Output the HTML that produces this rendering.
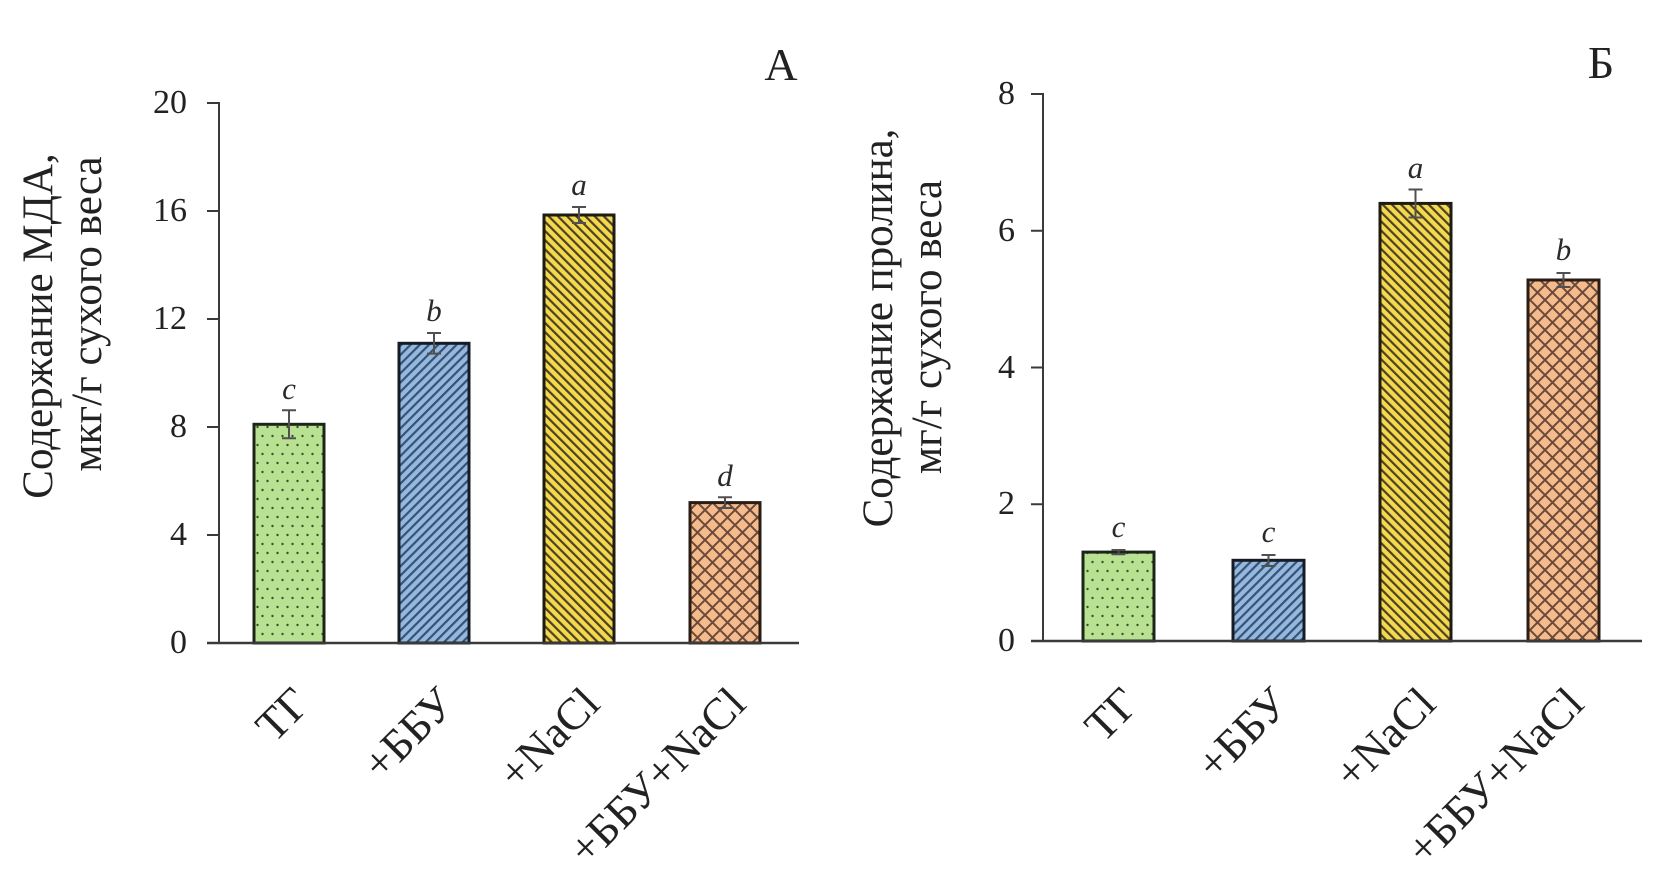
<!DOCTYPE html>
<html>
<head>
<meta charset="utf-8">
<style>
  html,body{margin:0;padding:0;background:#fff;}
  svg{display:block;}
  .t{font-family:"Liberation Serif","Noto Serif CJK SC",serif;fill:#222;}
  .it{font-family:"Liberation Serif","Noto Serif CJK SC",serif;font-style:italic;fill:#2a2a2a;}
</style>
</head>
<body>
<svg width="1678" height="882" viewBox="0 0 1678 882" xmlns="http://www.w3.org/2000/svg">
  <defs>
    <pattern id="dots" patternUnits="userSpaceOnUse" width="10" height="18">
      <rect width="10" height="18" fill="#b8e191"/>
      <circle cx="2.5" cy="4" r="1.2" fill="#3a5530"/>
      <circle cx="7.5" cy="13" r="1.2" fill="#3a5530"/>
    </pattern>
    <pattern id="blue" patternUnits="userSpaceOnUse" width="6.5" height="6.5" patternTransform="rotate(45)">
      <rect width="6.5" height="6.5" fill="#94b9e0"/>
      <rect width="2.2" height="6.5" fill="#3a5272"/>
    </pattern>
    <pattern id="yellow" patternUnits="userSpaceOnUse" width="6.5" height="6.5" patternTransform="rotate(-45)">
      <rect width="6.5" height="6.5" fill="#f4d84e"/>
      <rect width="2.2" height="6.5" fill="#4a4222"/>
    </pattern>
    <pattern id="cross" patternUnits="userSpaceOnUse" width="15" height="15">
      <rect width="15" height="15" fill="#f6bb8c"/>
      <path d="M0,0 L15,15 M15,0 L0,15" stroke="#6b4a3a" stroke-width="2"/>
    </pattern>
  </defs>

  <!-- ========== CHART A ========== -->
  <rect x="254" y="424.3" width="70" height="218.7" fill="url(#dots)" stroke="#1c2618" stroke-width="3"/>
  <rect x="399" y="343.3" width="70" height="299.7" fill="url(#blue)" stroke="#161c26" stroke-width="3"/>
  <rect x="544" y="215" width="70" height="428" fill="url(#yellow)" stroke="#1e1b10" stroke-width="3"/>
  <rect x="690" y="502.6" width="70" height="140.4" fill="url(#cross)" stroke="#2a1d16" stroke-width="3"/>

  <g stroke="#505050" stroke-width="2" fill="none">
    <path d="M289,410.3 V438.3 M282,410.3 H296 M282,438.3 H296"/>
    <path d="M434,333 V353.6 M427,333 H441 M427,353.6 H441"/>
    <path d="M579,207 V223 M572,207 H586 M572,223 H586"/>
    <path d="M725,497.2 V508 M718,497.2 H732 M718,508 H732"/>
  </g>

  <g stroke="#3a3a3a" stroke-width="2" fill="none">
    <path d="M219,102 V643"/>
    <path d="M207,103 H219 M207,211 H219 M207,319 H219 M207,427 H219 M207,535 H219"/>
  </g>
  <path d="M207,643 H799" stroke="#3a3a3a" stroke-width="2.5"/>

  <g class="t" font-size="34" text-anchor="end">
    <text x="187" y="113">20</text>
    <text x="187" y="221">16</text>
    <text x="187" y="329">12</text>
    <text x="187" y="437">8</text>
    <text x="187" y="545">4</text>
    <text x="187" y="653">0</text>
  </g>

  <g class="it" font-size="31" text-anchor="middle">
    <text x="289" y="399">c</text>
    <text x="434" y="321">b</text>
    <text x="579" y="195">a</text>
    <text x="725" y="486">d</text>
  </g>

  <text class="t" x="781" y="80" font-size="46" text-anchor="middle">А</text>

  <g class="t" font-size="43" text-anchor="middle">
    <text transform="translate(52,326) rotate(-90)">Содержание МДА,</text>
    <text transform="translate(101,314) rotate(-90)">мкг/г сухого веса</text>
  </g>

  <g class="t" font-size="45" text-anchor="end">
    <text transform="translate(312,706) rotate(-45)">ТГ</text>
    <text transform="translate(457,706) rotate(-45)">+ББУ</text>
    <text transform="translate(602,706) rotate(-45)">+NaCl</text>
    <text transform="translate(748,706) rotate(-45)">+ББУ+NaCl</text>
  </g>

  <!-- ========== CHART Б ========== -->
  <rect x="1083" y="552.1" width="71" height="88.9" fill="url(#dots)" stroke="#1c2618" stroke-width="3"/>
  <rect x="1233" y="560.3" width="71" height="80.7" fill="url(#blue)" stroke="#161c26" stroke-width="3"/>
  <rect x="1380" y="203.4" width="71" height="437.6" fill="url(#yellow)" stroke="#1e1b10" stroke-width="3"/>
  <rect x="1528" y="280" width="71" height="361" fill="url(#cross)" stroke="#2a1d16" stroke-width="3"/>

  <g stroke="#505050" stroke-width="2" fill="none">
    <path d="M1118.5,550 V554.2 M1111.5,550 H1125.5 M1111.5,554.2 H1125.5"/>
    <path d="M1268.5,555 V566 M1261.5,555 H1275.5 M1261.5,566 H1275.5"/>
    <path d="M1415.5,189.5 V217.5 M1408.5,189.5 H1422.5 M1408.5,217.5 H1422.5"/>
    <path d="M1563.5,273 V287 M1556.5,273 H1570.5 M1556.5,287 H1570.5"/>
  </g>

  <g stroke="#3a3a3a" stroke-width="2" fill="none">
    <path d="M1043,93 V641"/>
    <path d="M1031,94 H1043 M1031,230.75 H1043 M1031,367.5 H1043 M1031,504.25 H1043"/>
  </g>
  <path d="M1031,641 H1642" stroke="#3a3a3a" stroke-width="2.5"/>

  <g class="t" font-size="34" text-anchor="end">
    <text x="1015" y="104">8</text>
    <text x="1015" y="241">6</text>
    <text x="1015" y="378">4</text>
    <text x="1015" y="514">2</text>
    <text x="1015" y="651">0</text>
  </g>

  <g class="it" font-size="31" text-anchor="middle">
    <text x="1118.5" y="537">c</text>
    <text x="1268.5" y="542">c</text>
    <text x="1415.5" y="178">a</text>
    <text x="1563.5" y="260">b</text>
  </g>

  <text class="t" x="1601" y="78" font-size="46" text-anchor="middle">Б</text>

  <g class="t" font-size="43" text-anchor="middle">
    <text transform="translate(892,328) rotate(-90)">Содержание пролина,</text>
    <text transform="translate(941,327) rotate(-90)">мг/г сухого веса</text>
  </g>

  <g class="t" font-size="45" text-anchor="end">
    <text transform="translate(1141,706) rotate(-45)">ТГ</text>
    <text transform="translate(1291,706) rotate(-45)">+ББУ</text>
    <text transform="translate(1438,706) rotate(-45)">+NaCl</text>
    <text transform="translate(1586,706) rotate(-45)">+ББУ+NaCl</text>
  </g>
</svg>
</body>
</html>
